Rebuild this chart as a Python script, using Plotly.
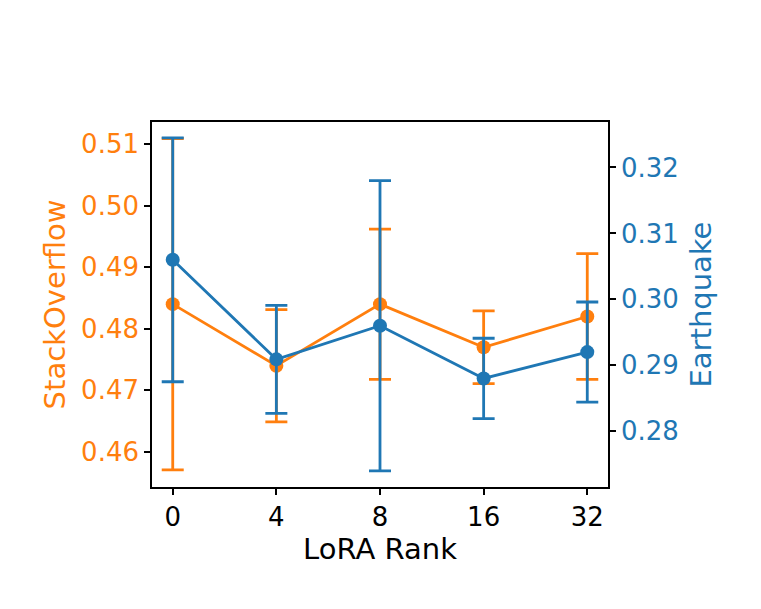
import plotly.graph_objects as go

ranks = ["0", "4", "8", "16", "32"]
stack_mean = [0.484, 0.474, 0.484, 0.477, 0.482]
stack_err = [0.0269, 0.0091, 0.0122, 0.0059, 0.0102]
quake_mean = [0.306, 0.2909, 0.296, 0.288, 0.292]
quake_err = [0.0185, 0.0082, 0.022, 0.0061, 0.0076]

ORANGE = "#ff7f0e"
BLUE = "#1f77b4"
FONT = "DejaVu Sans"
TICK = 26
LABEL = 29

fig = go.Figure()
fig.add_trace(go.Scatter(
    x=ranks, y=stack_mean, mode="lines+markers", name="StackOverflow",
    line=dict(color=ORANGE, width=2.8), marker=dict(color=ORANGE, size=14),
    error_y=dict(type="data", array=stack_err, visible=True, color=ORANGE,
                 thickness=2.8, width=11),
    yaxis="y",
))
fig.add_trace(go.Scatter(
    x=ranks, y=quake_mean, mode="lines+markers", name="Earthquake",
    line=dict(color=BLUE, width=2.8), marker=dict(color=BLUE, size=14),
    error_y=dict(type="data", array=quake_err, visible=True, color=BLUE,
                 thickness=2.8, width=11),
    yaxis="y2",
))

fig.update_layout(
    width=761, height=609,
    margin=dict(l=144, r=161, t=114, b=130),
    paper_bgcolor="white", plot_bgcolor="white",
    showlegend=False,
    font=dict(family=FONT, size=TICK, color="black"),
    xaxis=dict(
        type="category", range=[-0.2, 4.2],
        showline=True, linecolor="black", linewidth=1.6, mirror=True,
        ticks="outside", ticklen=6, tickwidth=1.6, tickcolor="black",
        showgrid=False, zeroline=False,
        tickfont=dict(size=TICK, color="black"),
        title=dict(text="LoRA Rank", font=dict(size=LABEL, color="black"), standoff=6),
    ),
    yaxis=dict(
        range=[0.45431, 0.51358],
        tickvals=[0.46, 0.47, 0.48, 0.49, 0.50, 0.51],
        ticktext=["0.46", "0.47", "0.48", "0.49", "0.50", "0.51"],
        showline=True, linecolor="black", linewidth=1.6,
        ticks="outside", ticklen=6, tickwidth=1.6, tickcolor="black",
        showgrid=False, zeroline=False,
        tickfont=dict(size=TICK, color=ORANGE),
        title=dict(text="StackOverflow", font=dict(size=LABEL, color=ORANGE), standoff=7),
    ),
    yaxis2=dict(
        overlaying="y", side="right",
        range=[0.27154, 0.3269],
        tickvals=[0.28, 0.29, 0.30, 0.31, 0.32],
        ticktext=["0.28", "0.29", "0.30", "0.31", "0.32"],
        showline=True, linecolor="black", linewidth=1.6,
        ticks="outside", ticklen=6, tickwidth=1.6, tickcolor="black",
        showgrid=False, zeroline=False,
        tickfont=dict(size=TICK, color=BLUE),
        title=dict(text="Earthquake", font=dict(size=LABEL, color=BLUE), standoff=13),
    ),
)

fig.write_html("out.html")
